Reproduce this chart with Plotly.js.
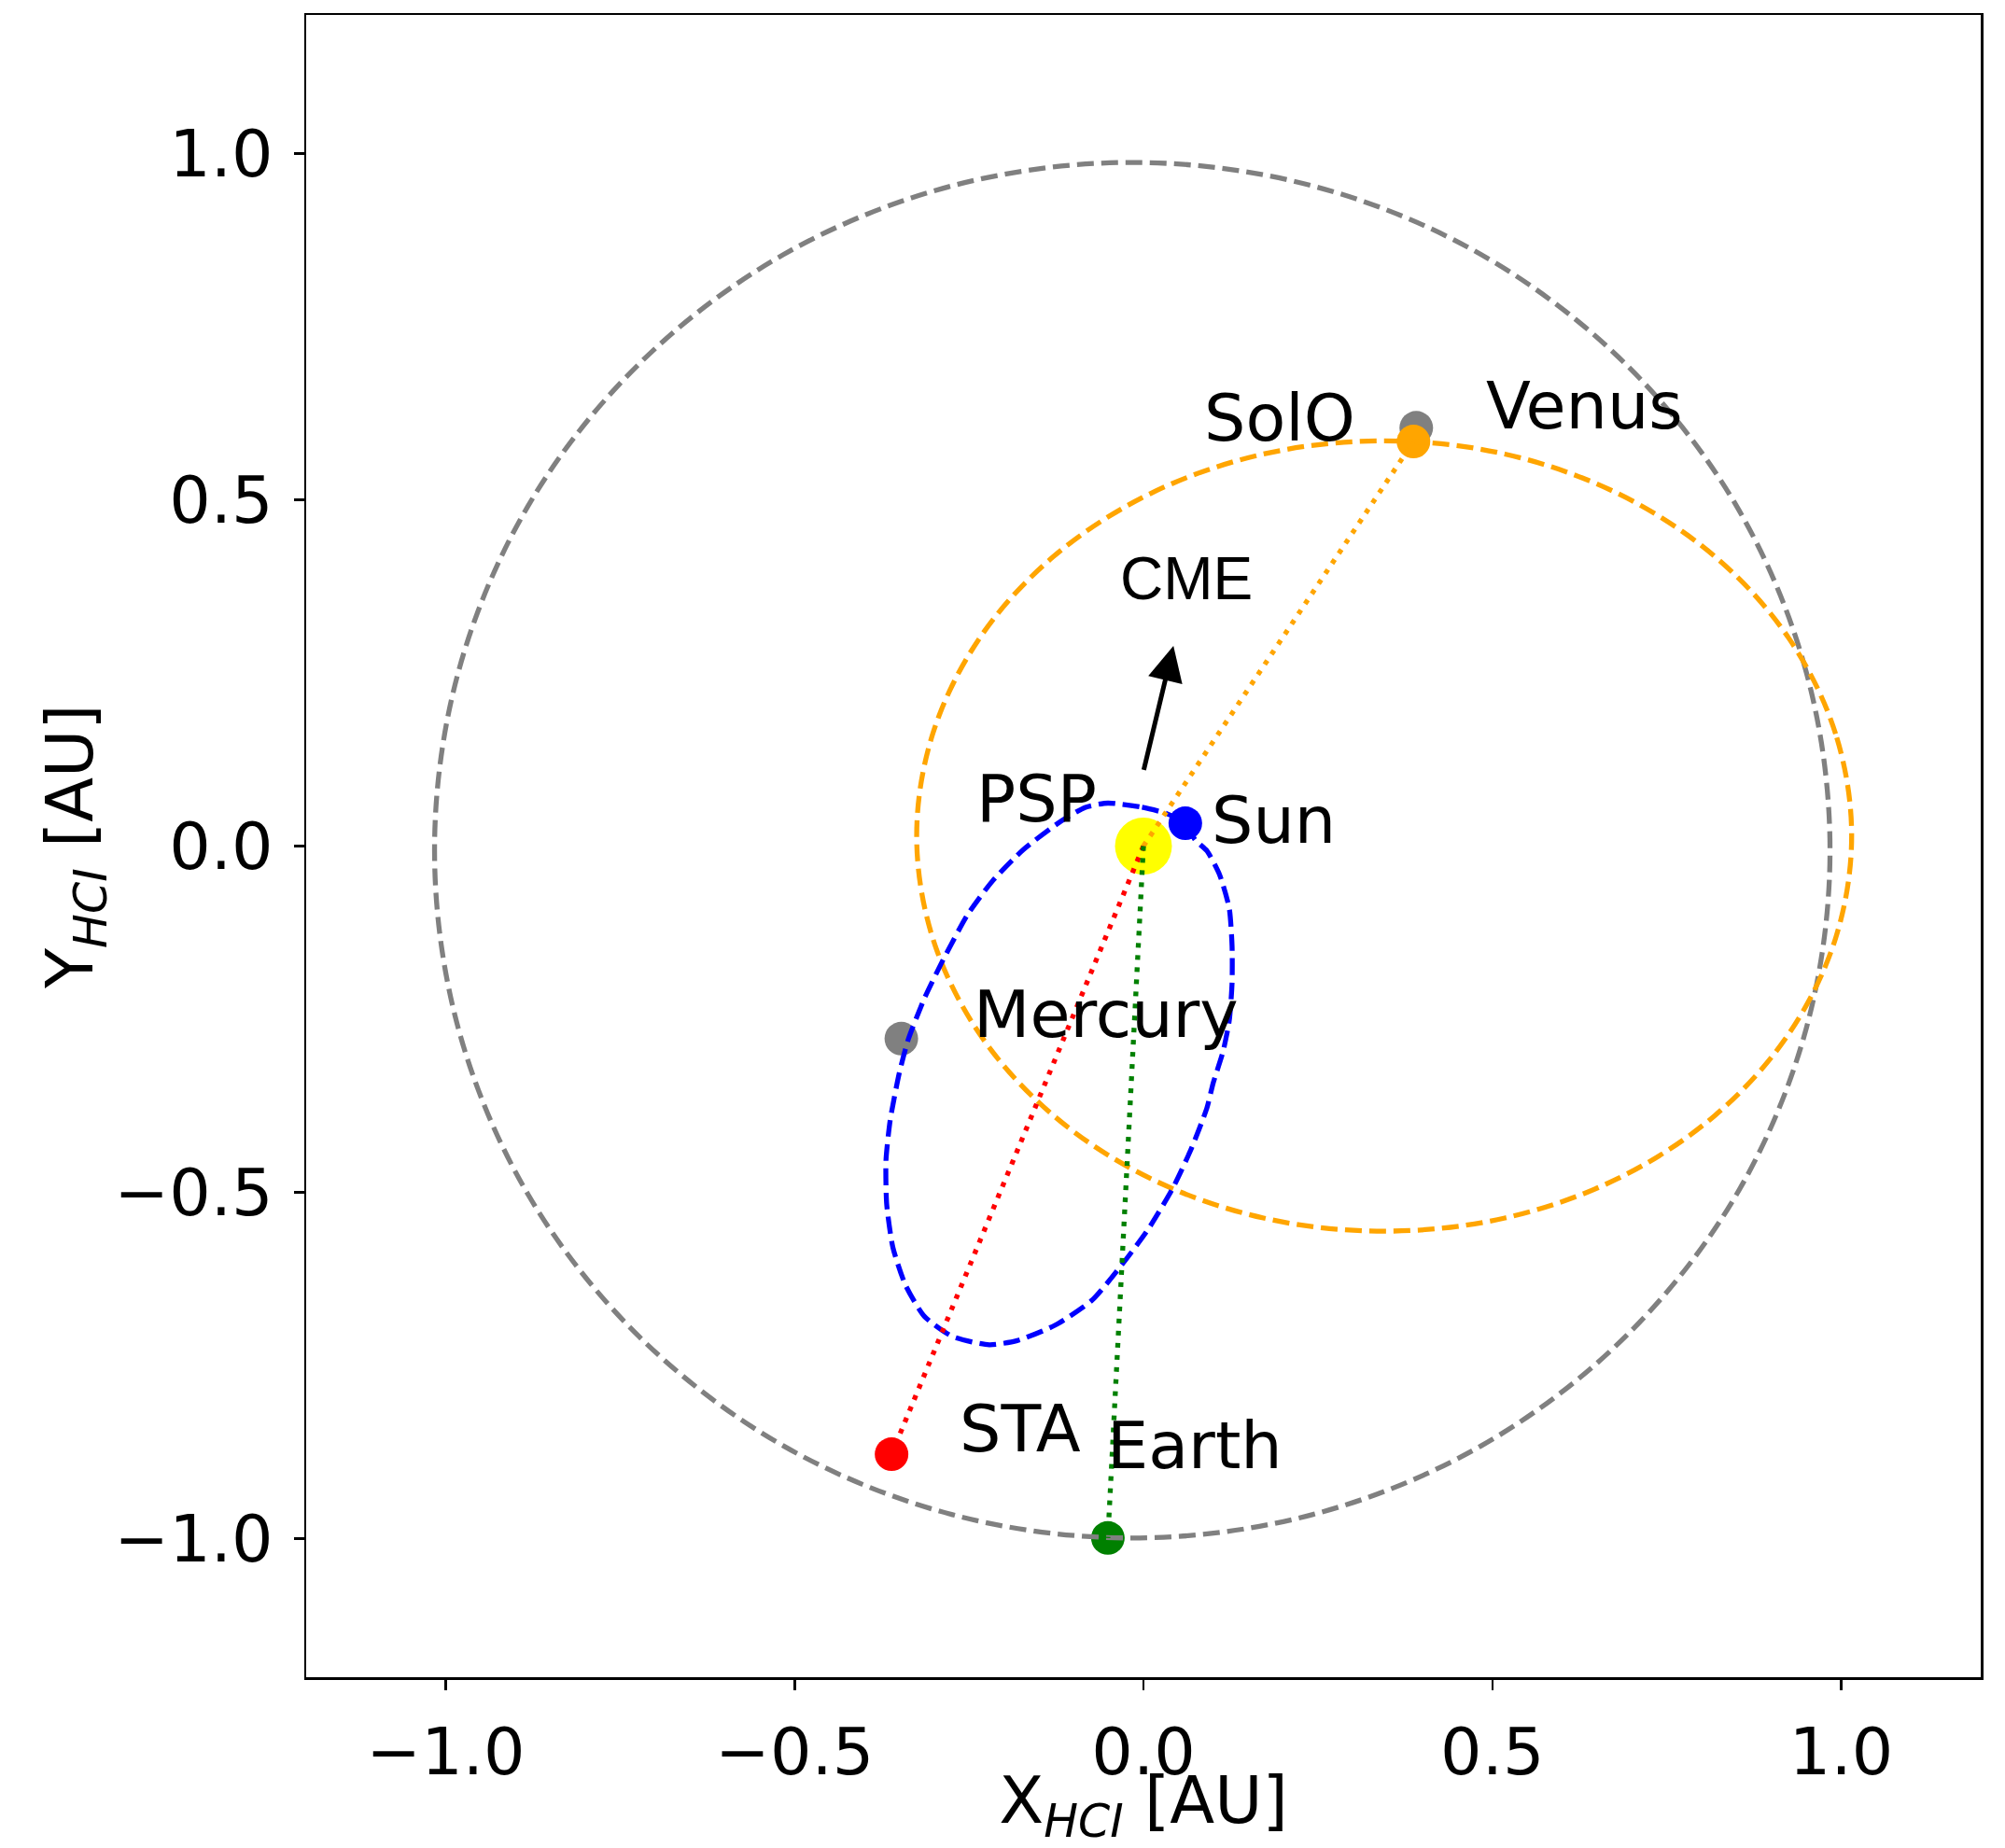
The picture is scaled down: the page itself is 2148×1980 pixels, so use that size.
<!DOCTYPE html>
<html>
<head>
<meta charset="utf-8">
<script src="https://cdn.plot.ly/plotly-3.0.1.min.js"></script>
<style>
  html, body { margin: 0; padding: 0; background: #ffffff; }
  #chart { width: 2148px; height: 1980px; }
</style>
</head>
<body>
<div id="chart"></div>
<script>
// ---------------- data ----------------
// Sun position (HCI, AU)
const sunX = [0.0];
const sunY = [0.0];

// Bodies (HCI, AU)
const bodyNames = ['Mercury', 'Venus', 'Earth', 'STA', 'SolO', 'PSP'];
const bodyX = [-0.347, 0.391, -0.051, -0.361, 0.387, 0.060];
const bodyY = [-0.278, 0.604, -0.999, -0.878, 0.584, 0.033];

// Earth orbit (gray dashed)
const earthOrbitX = [0.984, 0.950, 0.850, 0.691, 0.484, 0.243, -0.016, -0.275, -0.516, -0.723, -0.882, -0.982,
                     -1.016, -0.982, -0.882, -0.723, -0.516, -0.275, -0.016, 0.243, 0.484, 0.691, 0.850, 0.950, 0.984];
const earthOrbitY = [-0.006, 0.251, 0.491, 0.696, 0.854, 0.953, 0.987, 0.953, 0.854, 0.696, 0.491, 0.251,
                     -0.006, -0.263, -0.503, -0.708, -0.866, -0.965, -0.999, -0.965, -0.866, -0.708, -0.503, -0.263, -0.006];

// Solar Orbiter orbit (orange dashed)
const solOOrbitX = [1.015, 0.992, 0.925, 0.819, 0.680, 0.518, 0.345, 0.172, 0.010, -0.129, -0.235, -0.302,
                    -0.325, -0.302, -0.235, -0.129, 0.010, 0.172, 0.345, 0.518, 0.680, 0.819, 0.925, 0.992, 1.015];
const solOOrbitY = [0.015, 0.162, 0.300, 0.418, 0.509, 0.566, 0.585, 0.566, 0.509, 0.418, 0.300, 0.162,
                    0.015, -0.133, -0.271, -0.389, -0.480, -0.537, -0.556, -0.537, -0.480, -0.389, -0.271, -0.133, 0.015];

// Parker Solar Probe orbit (blue dashed)
const pspOrbitX = [-0.051, -0.002, 0.033, 0.060, 0.074, 0.091, 0.109, 0.123, 0.127, 0.127, 0.123, 0.114, 0.100,
                   0.091, 0.069, 0.042, 0.007, -0.029, -0.074, -0.127, -0.181, -0.221, -0.274, -0.314, -0.341,
                   -0.359, -0.368, -0.369, -0.363, -0.350, -0.337, -0.314, -0.288, -0.252, -0.216, -0.172, -0.118,
                   -0.083, -0.051];
const pspOrbitY = [0.062, 0.056, 0.047, 0.033, 0.009, -0.007, -0.041, -0.090, -0.144, -0.198, -0.252, -0.297, -0.342,
                   -0.378, -0.436, -0.494, -0.553, -0.602, -0.656, -0.692, -0.714, -0.720, -0.708, -0.679, -0.634,
                   -0.580, -0.517, -0.454, -0.396, -0.328, -0.279, -0.220, -0.166, -0.099, -0.050, -0.005, 0.036,
                   0.056, 0.062];

// CME direction arrow (tail -> head)
const cmeArrowX = [0.0, 0.043];
const cmeArrowY = [0.108, 0.289];

// Text labels
const labelText = ['SolO', 'Venus', 'PSP', 'Sun', 'Mercury', 'STA', 'Earth'];
const labelX = [0.195, 0.632, -0.153, 0.187, -0.054, -0.176, 0.074];
const labelY = [0.618, 0.635, 0.068, 0.037, -0.243, -0.841, -0.866];
const cmeLabel = 'CME';
const cmeLabelX = 0.062;
const cmeLabelY = 0.386;

// Tick values
const tickValues = [-1.0, -0.5, 0.0, 0.5, 1.0];

// ---------------- styles ----------------
const FONT = 'DejaVu Sans, Bitstream Vera Sans, sans-serif';
const bodyColor = {Mercury: 'gray', Venus: 'gray', Earth: 'green', STA: 'red', SolO: 'orange', PSP: 'blue'};
const LW = 5.3;
const DASH = '18px,8px';
const DOT = '5px,8px';

function idx(name) { return bodyNames.indexOf(name); }

const traces = [];

// Sun
traces.push({x: sunX, y: sunY, type: 'scatter', mode: 'markers',
  marker: {size: 61, color: 'yellow', line: {width: 0}}, hoverinfo: 'skip'});

// body dots
['Mercury', 'Venus', 'Earth', 'STA', 'SolO', 'PSP'].forEach(function (n) {
  const i = idx(n);
  traces.push({x: [bodyX[i]], y: [bodyY[i]], type: 'scatter', mode: 'markers', name: n,
    marker: {size: 36, color: bodyColor[n], line: {width: 0}}});
});

// orbits
traces.push({x: earthOrbitX, y: earthOrbitY, type: 'scatter', mode: 'lines',
  line: {color: 'gray', width: LW, dash: DASH, shape: 'spline', smoothing: 1}});
traces.push({x: solOOrbitX, y: solOOrbitY, type: 'scatter', mode: 'lines',
  line: {color: 'orange', width: LW, dash: DASH, shape: 'spline', smoothing: 1}});
traces.push({x: pspOrbitX, y: pspOrbitY, type: 'scatter', mode: 'lines',
  line: {color: 'blue', width: LW, dash: DASH, shape: 'spline', smoothing: 0.6}});

// dotted Sun-body lines
[['SolO', 'orange'], ['STA', 'red'], ['Earth', 'green']].forEach(function (p) {
  const i = idx(p[0]);
  traces.push({x: [sunX[0], bodyX[i]], y: [sunY[0], bodyY[i]], type: 'scatter', mode: 'lines',
    line: {color: p[1], width: LW, dash: DOT}});
});

const annotations = labelText.map(function (t, i) {
  return {x: labelX[i], y: labelY[i], xref: 'x', yref: 'y', text: t, showarrow: false,
    xanchor: 'center', yanchor: 'middle', font: {family: FONT, size: 70, color: '#000'}};
});
annotations.push({x: cmeLabelX, y: cmeLabelY, xref: 'x', yref: 'y', text: cmeLabel, showarrow: false,
  xanchor: 'center', yanchor: 'middle', font: {family: 'Liberation Sans, Arial, sans-serif', size: 64, color: '#000'}});
annotations.push({x: cmeArrowX[1], y: cmeArrowY[1], ax: cmeArrowX[0], ay: cmeArrowY[0],
  xref: 'x', yref: 'y', axref: 'x', ayref: 'y', text: '', showarrow: true,
  arrowhead: 2, arrowsize: 1.5, arrowwidth: 5, arrowcolor: '#000', standoff: 0, startstandoff: 0});

const axisCommon = {
  range: [-1.2, 1.2], autorange: false, tickmode: 'array', tickvals: tickValues, tickformat: '.1f',
  ticks: 'outside', ticklen: 11, tickwidth: 2.5, tickcolor: '#000',
  showline: true, linewidth: 2.5, linecolor: '#000', mirror: true,
  showgrid: false, zeroline: false,
  tickfont: {family: FONT, size: 70, color: '#000'}
};

const layout = {
  width: 2148, height: 1980,
  margin: {l: 328, r: 26, t: 16, b: 183, pad: 0, autoexpand: false},
  paper_bgcolor: '#ffffff', plot_bgcolor: '#ffffff',
  showlegend: false,
  xaxis: Object.assign({}, axisCommon, {
    title: {text: 'X<sub><i>HCI</i></sub> [AU]', font: {family: FONT, size: 70, color: '#000'}, standoff: 10},
    ticklabelstandoff: 6
  }),
  yaxis: Object.assign({}, axisCommon, {
    title: {text: 'Y<sub><i>HCI</i></sub> [AU]', font: {family: FONT, size: 70, color: '#000'}, standoff: 0},
    ticklabelstandoff: 8
  }),
  annotations: annotations
};

Plotly.newPlot('chart', traces, layout, {staticPlot: true, displayModeBar: false});
</script>
</body>
</html>
